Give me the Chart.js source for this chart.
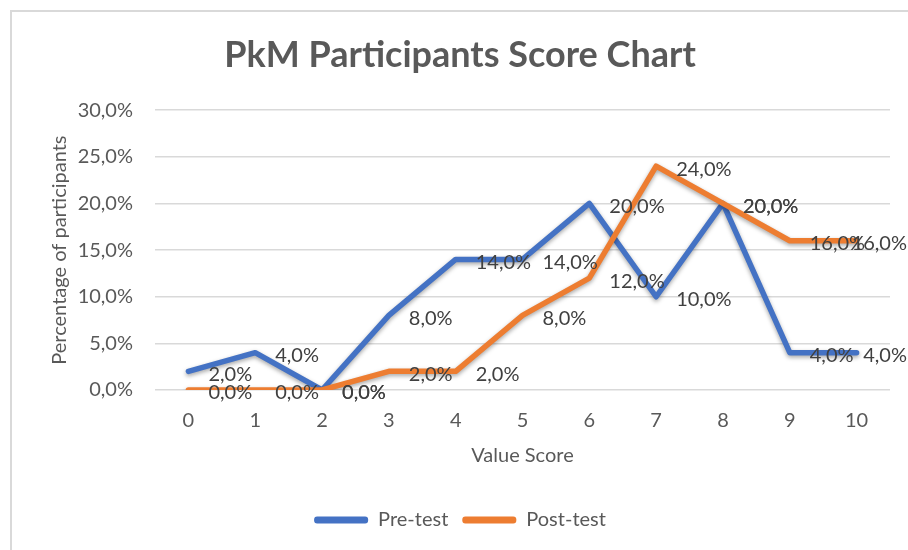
<!DOCTYPE html>
<html>
<head>
<meta charset="utf-8">
<script src="https://cdn.jsdelivr.net/npm/chart.js@4"></script>
<style>
  html, body { margin: 0; padding: 0; background: #fff; overflow: hidden; }
  #wrap { position: relative; width: 908px; height: 550px; }
  #frame { position: absolute; left: 10px; top: 10px; width: 920px; height: 560px;
           border-left: 2px solid #d9d9d9; border-top: 2px solid #d9d9d9; }
  canvas { position: absolute; left: 0; top: 0; }
</style>
</head>
<body>
<div id="wrap">
  <div id="frame"></div>
  <canvas id="myChart" width="908" height="550"></canvas>
</div>
<script>
const scoreLabels = ['0', '1', '2', '3', '4', '5', '6', '7', '8', '9', '10'];
const preTest = [2, 4, 0, 8, 14, 14, 20, 10, 20, 4, 4];
const postTest = [0, 0, 0, 2, 2, 8, 12, 24, 20, 16, 16];
const yMin = 0;
const yMax = 30;
const yStep = 5;

const FONT = 'Lato';
const GREY = '#595959';

function pct(v) {
  return v.toFixed(1).replace('.', ',') + '%';
}

// soft shadow under the lines, like the spreadsheet look
const lineShadow = {
  id: 'lineShadow',
  beforeDatasetDraw(chart) {
    const c = chart.ctx;
    c.save();
    c.shadowColor = 'rgba(0,0,0,0.35)';
    c.shadowBlur = 4;
    c.shadowOffsetY = 2;
  },
  afterDatasetDraw(chart) {
    chart.ctx.restore();
  },
};

// value labels to the right of every point (kept inside the canvas)
const valueLabels = {
  id: 'valueLabels',
  afterDatasetsDraw(chart) {
    const c = chart.ctx;
    c.save();
    c.font = '20px ' + FONT;
    c.fillStyle = '#404040';
    c.textAlign = 'left';
    c.textBaseline = 'middle';
    chart.data.datasets.forEach((ds, i) => {
      chart.getDatasetMeta(i).data.forEach((pt, j) => {
        const txt = pct(ds.data[j]);
        const w = c.measureText(txt).width;
        const x = Math.min(pt.x + 20, chart.width - w - 1);
        c.fillText(txt, x, pt.y + 3);
      });
    });
    c.restore();
  },
};

const ctx = document.getElementById('myChart').getContext('2d');
const myChart = new Chart(ctx, {
  type: 'line',
  data: {
    labels: scoreLabels,
    datasets: [
      {
        label: 'Pre-test',
        data: preTest,
        borderColor: '#4472C4',
        backgroundColor: '#4472C4',
        borderWidth: 5.5,
        pointRadius: 0,
        order: 1,
      },
      {
        label: 'Post-test',
        data: postTest,
        borderColor: '#ED7D31',
        backgroundColor: '#ED7D31',
        borderWidth: 5.5,
        pointRadius: 0,
        order: 0,
      },
    ],
  },
  options: {
    responsive: false,
    animation: false,
    elements: { line: { tension: 0, borderJoinStyle: 'round', borderCapStyle: 'round' } },
    layout: { padding: { left: 30, right: 18, top: 28, bottom: 10 } },
    plugins: {
      tooltip: { enabled: false },
      title: {
        display: true,
        text: 'PkM Participants Score Chart',
        color: GREY,
        font: { family: FONT, size: 36, weight: 'bold' },
        padding: { top: 6, bottom: 33 },
      },
      legend: {
        position: 'bottom',
        labels: {
          color: GREY,
          font: { family: FONT, size: 20 },
          boxWidth: 54,
          boxHeight: 7,
          useBorderRadius: true,
          borderRadius: 3,
          padding: 14,
          sort: (a, b) => a.datasetIndex - b.datasetIndex,
          generateLabels: (chart) =>
            Chart.defaults.plugins.legend.labels.generateLabels(chart).map((l) => {
              l.lineWidth = 0;
              return l;
            }),
        },
      },
    },
    scales: {
      x: {
        offset: true,
        grid: { display: false },
        border: { display: false },
        ticks: { color: GREY, font: { family: FONT, size: 20 }, padding: 11 },
        title: {
          display: true,
          text: 'Value Score',
          color: GREY,
          font: { family: FONT, size: 20 },
          padding: { top: 8, bottom: 28 },
        },
        afterFit: (scale) => { scale.height = 106; },
      },
      y: {
        min: yMin,
        max: yMax,
        grid: { color: '#d9d9d9', lineWidth: 1.5, drawTicks: false },
        border: { display: false },
        ticks: {
          stepSize: yStep,
          color: GREY,
          font: { family: FONT, size: 20 },
          padding: 22,
          callback: (v) => pct(v),
        },
        title: {
          display: true,
          text: 'Percentage of participants',
          color: GREY,
          font: { family: FONT, size: 20 },
          padding: { top: 18, bottom: 0 },
        },
        afterFit: (scale) => { scale.width = 125; },
      },
    },
  },
  plugins: [lineShadow, valueLabels],
});
</script>
</body>
</html>
